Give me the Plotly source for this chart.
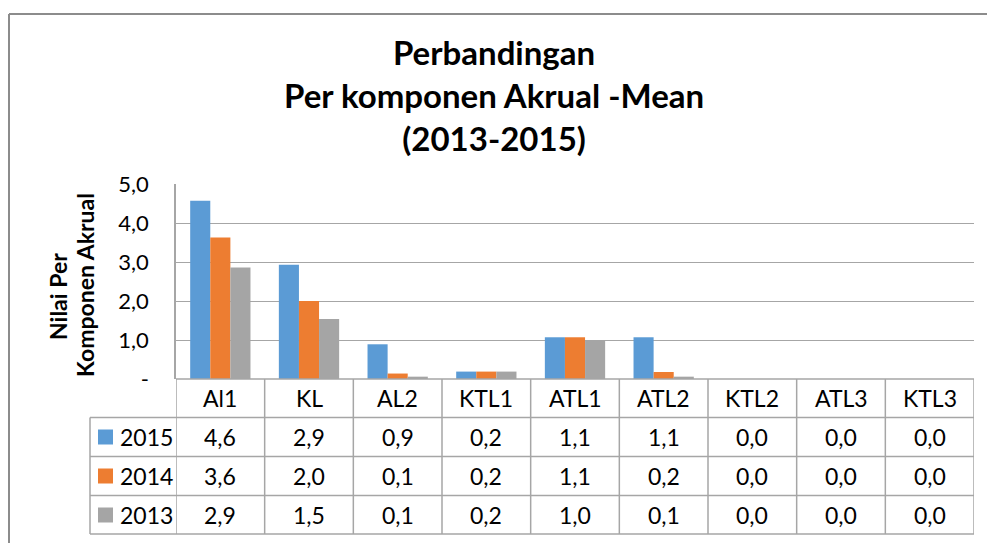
import plotly.graph_objects as go

categories = ["Al1", "KL", "AL2", "KTL1", "ATL1", "ATL2", "KTL2", "ATL3", "KTL3"]
series_names = ["2015", "2014", "2013"]
values_2015 = [4.57, 2.93, 0.89, 0.19, 1.07, 1.07, 0.0, 0.0, 0.0]
values_2014 = [3.63, 2.00, 0.14, 0.19, 1.07, 0.18, 0.0, 0.0, 0.0]
values_2013 = [2.86, 1.54, 0.06, 0.19, 1.00, 0.06, 0.0, 0.0, 0.0]
y_tick_vals = [0, 1, 2, 3, 4, 5]
y_tick_text = ["-", "1,0", "2,0", "3,0", "4,0", "5,0"]
colors = ["#5B9BD5", "#ED7D31", "#A5A5A5"]
title_text = "Perbandingan<br>Per komponen Akrual -Mean<br>(2013-2015)"
y_title_lines = ["Nilai Per", "Komponen Akrual"]

W, H = 987, 543
L, R, T, B = 176, 974, 184, 379
FONT = "Lato"
GRID = "#A6A6A6"


def px_x(p):
    return (p - L) / (R - L)


def px_y(p):
    return (B - p) / (B - T)


fig = go.Figure()
all_vals = [values_2015, values_2014, values_2013]
for name, vals, col in zip(series_names, all_vals, colors):
    fig.add_trace(go.Bar(x=categories, y=vals, name=name, marker=dict(color=col, line=dict(width=0)),
                         showlegend=False, hoverinfo="x+y+name"))

shapes = []
# outer frame
shapes.append(dict(type="line", xref="paper", yref="paper", x0=px_x(9), x1=px_x(990), y0=px_y(14), y1=px_y(14),
                   line=dict(color="#8C8C8C", width=2)))
shapes.append(dict(type="line", xref="paper", yref="paper", x0=px_x(9), x1=px_x(9), y0=px_y(14), y1=px_y(545),
                   line=dict(color="#8C8C8C", width=2)))

# table rows
row_edges = [379, 417.5, 456.5, 495.5, 534]
for i, yy in enumerate(row_edges):
    x0 = px_x(176) if i == 0 else px_x(90)
    shapes.append(dict(type="line", xref="paper", yref="paper", x0=x0, x1=1, y0=px_y(yy), y1=px_y(yy),
                       line=dict(color=GRID, width=1.5)))
# table verticals
for k in range(len(categories) + 1):
    shapes.append(dict(type="line", xref="x", yref="paper", x0=k - 0.5, x1=k - 0.5, y0=px_y(379), y1=px_y(534),
                       line=dict(color=GRID, width=1.5)))
shapes.append(dict(type="line", xref="paper", yref="paper", x0=px_x(90), x1=px_x(90), y0=px_y(417.5), y1=px_y(534),
                   line=dict(color=GRID, width=1.5)))

annotations = []
# title
annotations.append(dict(text=title_text, xref="paper", yref="paper", x=px_x(493.5), y=px_y(95), xanchor="center",
                        yanchor="middle", showarrow=False,
                        font=dict(family=FONT, size=33, color="#000000", weight="bold"), align="center"))
# y title (two lines)
for txt, xc, yc in zip(y_title_lines, [58, 85], [297, 285]):
    annotations.append(dict(text=txt, xref="paper", yref="paper", x=px_x(xc), y=px_y(yc), xanchor="center",
                            yanchor="middle", showarrow=False, textangle=-90,
                            font=dict(family=FONT, size=23, color="#000000", weight="bold"), align="center"))
# header
for c in categories:
    annotations.append(dict(text=c, xref="x", yref="paper", x=c, y=px_y(398), xanchor="center", yanchor="middle",
                            showarrow=False, font=dict(family=FONT, size=23, color="#000000")))
row_centers = [437, 476, 515]
for r, (name, vals, col) in enumerate(zip(series_names, all_vals, colors)):
    yc = px_y(row_centers[r])
    shapes.append(dict(type="rect", xref="paper", yref="paper", x0=px_x(98), x1=px_x(113),
                       y0=yc - 7.5 / (B - T), y1=yc + 7.5 / (B - T), fillcolor=col, line=dict(width=0)))
    annotations.append(dict(text=name, xref="paper", yref="paper", x=px_x(118), y=yc, xanchor="left",
                            yanchor="middle", showarrow=False, font=dict(family=FONT, size=23, color="#000000")))
    for c, v in zip(categories, vals):
        annotations.append(dict(text=f"{v:.1f}".replace(".", ","), xref="x", yref="paper", x=c, y=yc,
                                xanchor="center", yanchor="middle", showarrow=False,
                                font=dict(family=FONT, size=23, color="#000000")))

fig.update_layout(
    width=W, height=H,
    margin=dict(l=L, r=W - R, t=T, b=H - B, pad=0),
    paper_bgcolor="white", plot_bgcolor="white",
    barmode="group", bargap=0.32, bargroupgap=0.0,
    font=dict(family=FONT, size=22, color="#000000"),
    shapes=shapes, annotations=annotations,
    xaxis=dict(range=[-0.5, len(categories) - 0.5], showticklabels=False, showgrid=False, zeroline=False,
               showline=False, ticks=""),
    yaxis=dict(range=[0, 5], tickvals=y_tick_vals, ticktext=y_tick_text, showgrid=True, gridcolor=GRID,
               gridwidth=1.3, zeroline=False, showline=True, linecolor=GRID, linewidth=1.5, ticks="",
               ticklabelstandoff=21, tickfont=dict(family=FONT, size=22, color="#000000")),
)
fig.write_html("out.html", config={"displayModeBar": False},
               post_script="document.body.style.margin='0';document.body.style.overflow='hidden';")
